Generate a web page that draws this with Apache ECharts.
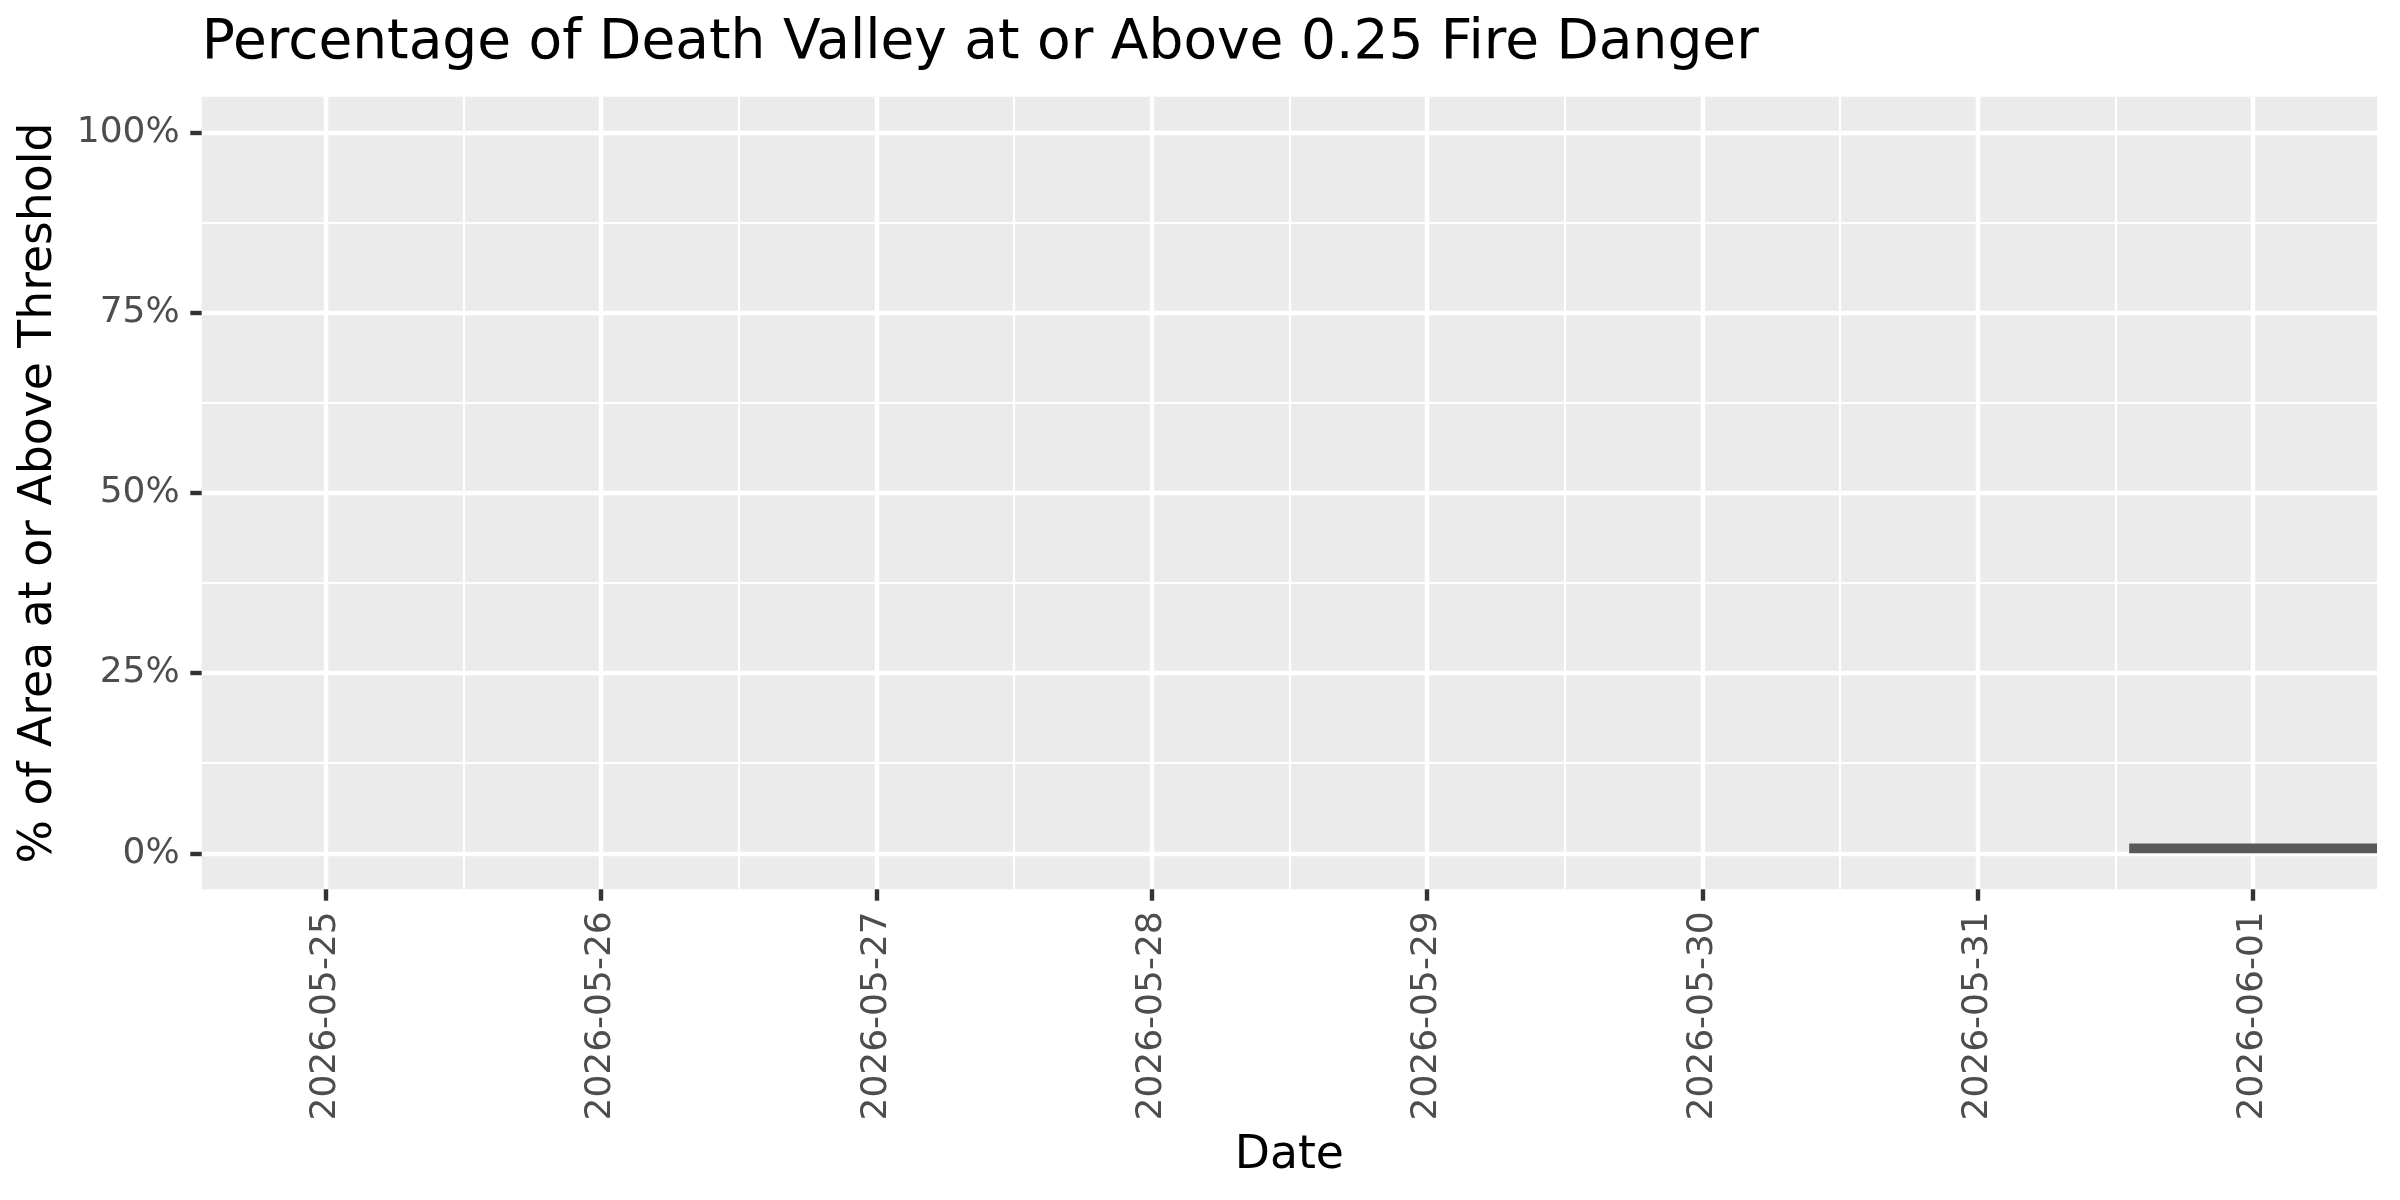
<!DOCTYPE html>
<html>
<head>
<meta charset="utf-8">
<script src="https://cdn.jsdelivr.net/npm/echarts@6/dist/echarts.min.js"></script>
<style>
html, body { margin: 0; padding: 0; background: #ffffff; }
#chart { width: 2400px; height: 1200px; }
</style>
</head>
<body>
<div id="chart"></div>
<script>
// ---- data ----
const dates = ['2026-05-25', '2026-05-26', '2026-05-27', '2026-05-28',
               '2026-05-29', '2026-05-30', '2026-05-31', '2026-06-01'];
const pctAbove = [0, 0, 0, 0, 0, 0, 0, 1.35];
const yTicks = [0, 25, 50, 75, 100];
const yTickLabels = ['0%', '25%', '50%', '75%', '100%'];
const titleText = 'Percentage of Death Valley at or Above 0.25 Fire Danger';
const xTitle = 'Date';
const yTitle = '% of Area at or Above Threshold';

// ---- layout (pixels) ----
const FONT = 'DejaVu Sans';
const panelLeft = 201.7, panelTop = 96.7, panelW = 2175.3, panelH = 792.6;
const xPad = 0.45;                       // days of padding each side
const ySpanMin = -5, ySpanMax = 105;      // panel y range
const nDays = dates.length - 1;
const dayPx = panelW / (nDays + 2 * xPad);
const yPx = panelH / (ySpanMax - ySpanMin);
const gridYTop = panelTop + (ySpanMax - 100) * yPx;
const gridYH = 100 * yPx;
const gridXLeft = panelLeft + xPad * dayPx;
const gridXW = nDays * dayPx;

const gridMajor = 4.4, gridMinor = 2.2, tickLen = 11.4;

const chart = echarts.init(document.getElementById('chart'), null, { renderer: 'canvas' });

const option = {
  backgroundColor: '#ffffff',
  animation: false,
  title: {
    text: titleText,
    left: panelLeft,
    top: 15.8,
    padding: 0,
    textStyle: { fontFamily: FONT, fontSize: 55, fontWeight: 'normal', color: '#000000' }
  },
  grid: [
    { // panel background
      left: panelLeft, top: panelTop, width: panelW, height: panelH,
      show: true, backgroundColor: '#EBEBEB', borderWidth: 0, z: -1
    },
    { // y grid (0..100)
      left: panelLeft, top: gridYTop, width: panelW, height: gridYH
    },
    { // x grid (day 0..7)
      left: gridXLeft, top: panelTop, width: gridXW, height: panelH
    }
  ],
  xAxis: [
    { gridIndex: 0, type: 'value', show: false, min: 0, max: 1 },
    { gridIndex: 1, type: 'value', show: false, min: -xPad, max: nDays + xPad },
    {
      gridIndex: 2, type: 'value', min: 0, max: nDays, interval: 1,
      position: 'bottom',
      name: xTitle, nameLocation: 'middle', nameGap: 244,
      nameTextStyle: { fontFamily: FONT, fontSize: 45.7, color: '#000000' },
      axisLine: { show: false, onZero: false },
      axisTick: { show: true, length: tickLen, lineStyle: { color: '#333333', width: gridMajor } },
      axisLabel: {
        show: true, rotate: 90, margin: 22,
        fontFamily: FONT, fontSize: 36, color: '#4D4D4D',
        formatter: function (v) { return dates[Math.round(v)] || ''; }
      },
      splitLine: { show: true, lineStyle: { color: '#ffffff', width: gridMajor } },
      minorTick: { show: false, splitNumber: 2 },
      minorSplitLine: { show: true, lineStyle: { color: '#ffffff', width: gridMinor } }
    }
  ],
  yAxis: [
    { gridIndex: 0, type: 'value', show: false, min: 0, max: 1 },
    {
      gridIndex: 1, type: 'value', min: yTicks[0], max: yTicks[yTicks.length - 1], interval: 25,
      position: 'left',
      name: yTitle, nameLocation: 'middle', nameGap: 140, nameRotate: 90,
      nameTextStyle: { fontFamily: FONT, fontSize: 45.7, color: '#000000' },
      axisLine: { show: false, onZero: false },
      axisTick: { show: true, length: tickLen, lineStyle: { color: '#333333', width: gridMajor } },
      axisLabel: {
        show: true, margin: 22,
        fontFamily: FONT, fontSize: 36, color: '#4D4D4D',
        formatter: function (v) {
          const i = yTicks.indexOf(v);
          return i >= 0 ? yTickLabels[i] : '';
        }
      },
      splitLine: { show: true, lineStyle: { color: '#ffffff', width: gridMajor } },
      minorTick: { show: false, splitNumber: 2 },
      minorSplitLine: { show: true, lineStyle: { color: '#ffffff', width: gridMinor } }
    },
    { gridIndex: 2, type: 'value', show: false, min: ySpanMin, max: ySpanMax }
  ],
  series: [
    {
      type: 'bar',
      xAxisIndex: 1,
      yAxisIndex: 1,
      barWidth: dayPx * 0.9,
      itemStyle: { color: '#595959' },
      data: dates.map(function (d, i) { return [i, pctAbove[i]]; }),
      z: 5
    }
  ]
};

chart.setOption(option);
</script>
</body>
</html>
